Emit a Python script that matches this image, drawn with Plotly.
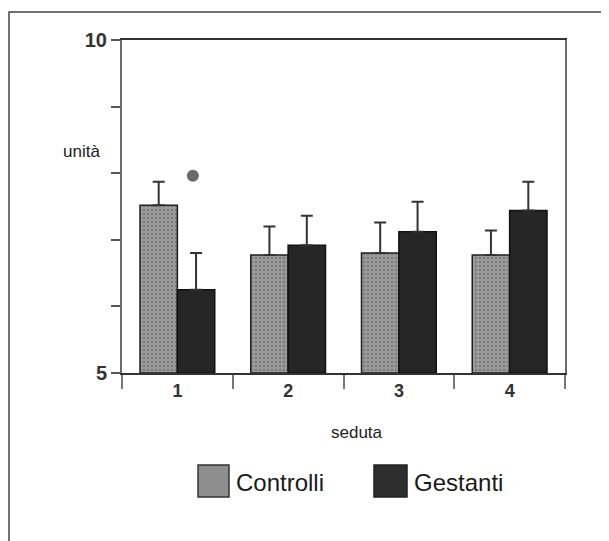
import plotly.graph_objects as go

sedute = ["1", "2", "3", "4"]
controlli = [7.52, 6.77, 6.80, 6.77]
controlli_err = [0.35, 0.43, 0.46, 0.37]
gestanti = [6.25, 6.92, 7.12, 7.44]
gestanti_err = [0.55, 0.44, 0.45, 0.43]
sig_x = [1.14]
sig_y = [7.96]
y_ticks = [5, 6, 7, 8, 9, 10]
y_ticktext = ["5", "", "", "", "", "10"]

# the page body has an 8px margin; work in page pixels and convert
OFF = 8
W, H = 609 - OFF, 541 - OFF
PL, PR, PT, PB = 122, 565, 40, 373          # plot box in page pixels
L, T = PL - OFF, PT - OFF
R, B = W - (PR - OFF), H - (PB - OFF)
pw, ph = PR - PL, PB - PT

def px(x):
    return (x - PL) / pw

def py(y):
    return (PB - y) / ph

fig = go.Figure()
fig.add_trace(go.Bar(
    x=sedute, y=[v - 5 for v in controlli], base=5, name="Controlli",
    marker=dict(color="#999999", line=dict(color="#1e1e1e", width=1.5),
                pattern=dict(shape=".", bgcolor="#9c9c9c", fgcolor="#5a5a5a",
                             size=4, solidity=0.35)),
    error_y=dict(type="data", symmetric=False, array=controlli_err,
                 arrayminus=[0] * 4, color="#333333", thickness=2, width=6),
))
fig.add_trace(go.Bar(
    x=sedute, y=[v - 5 for v in gestanti], base=5, name="Gestanti",
    marker=dict(color="#262626", line=dict(color="#111111", width=1.5)),
    error_y=dict(type="data", symmetric=False, array=gestanti_err,
                 arrayminus=[0] * 4, color="#333333", thickness=2, width=6),
))
fig.add_trace(go.Scatter(
    x=sig_x, y=sig_y, xaxis="x2", mode="markers",
    marker=dict(symbol="circle", size=12, color="#6a6a6a"),
    showlegend=False, hoverinfo="skip",
))

fig.update_layout(
    width=W, height=H,
    margin=dict(l=L, r=R, t=T, b=B, autoexpand=False),
    paper_bgcolor="white", plot_bgcolor="white",
    showlegend=False,
    barmode="group", bargap=0.325, bargroupgap=0,
    font=dict(family="Liberation Sans, Arial, sans-serif", color="#222222"),
    xaxis=dict(
        type="category", range=[-0.5, 3.5],
        showline=True, linecolor="#333333", linewidth=2, mirror=True,
        ticks="outside", tickson="boundaries", ticklen=14, tickwidth=2,
        tickcolor="#777777", showgrid=False, zeroline=False,
        tickfont=dict(size=18, color="#333333", weight="bold"),
    ),
    xaxis2=dict(overlaying="x", range=[0.5, 4.5], visible=False),
    yaxis=dict(
        range=[5, 10], tickvals=y_ticks, ticktext=y_ticktext,
        showline=True, linecolor="#6a6a6a", linewidth=2, mirror=True,
        ticks="outside", ticklen=9, tickwidth=2, tickcolor="#555555",
        showgrid=False, zeroline=False,
        tickfont=dict(size=20, color="#333333", weight="bold"),
    ),
)

fig.add_annotation(xref="paper", yref="paper", x=px(81), y=py(151),
                   text="unità", showarrow=False, xanchor="center",
                   yanchor="middle", font=dict(size=17, color="#222222"))
fig.add_annotation(xref="paper", yref="paper", x=px(357), y=py(432),
                   text="seduta", showarrow=False, xanchor="center",
                   yanchor="middle", font=dict(size=17, color="#222222"))

# legend
fig.add_shape(type="rect", xref="paper", yref="paper",
              x0=px(198), x1=px(229), y0=py(497), y1=py(465),
              fillcolor="#8e8e8e", line=dict(color="#333333", width=1.5))
fig.add_shape(type="rect", xref="paper", yref="paper",
              x0=px(374), x1=px(407), y0=py(497), y1=py(465),
              fillcolor="#2e2e2e", line=dict(color="#222222", width=1.5))
fig.add_annotation(xref="paper", yref="paper", x=px(234), y=py(482),
                   text="Controlli", showarrow=False, xanchor="left",
                   yanchor="middle", font=dict(size=24, color="#1a1a1a"))
fig.add_annotation(xref="paper", yref="paper", x=px(412), y=py(482),
                   text="Gestanti", showarrow=False, xanchor="left",
                   yanchor="middle", font=dict(size=24, color="#1a1a1a"))

# outer frame
fig.add_shape(type="rect", xref="paper", yref="paper",
              x0=px(9), x1=px(640), y0=py(580), y1=py(12),
              line=dict(color="#444444", width=1.5), fillcolor="rgba(0,0,0,0)")

fig.write_html("out.html")
